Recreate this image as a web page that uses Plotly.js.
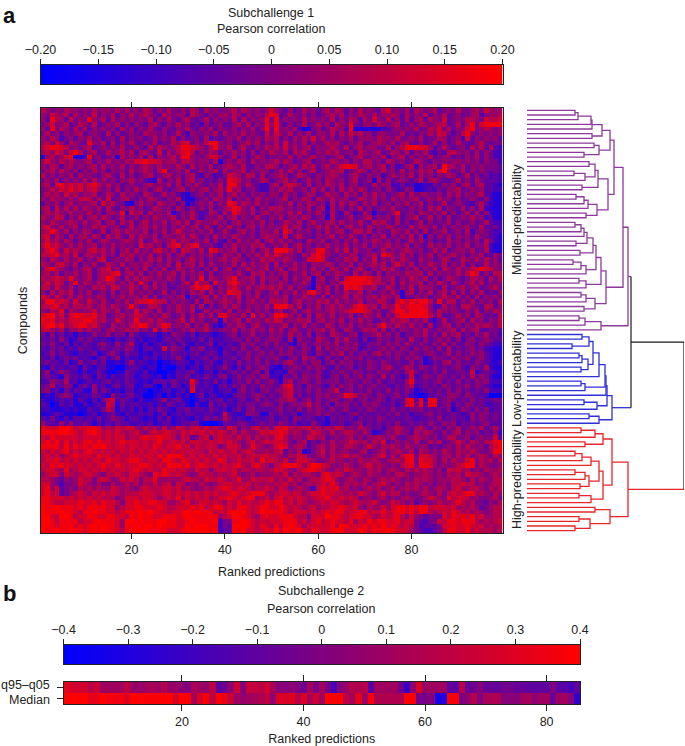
<!DOCTYPE html>
<html><head><meta charset="utf-8">
<script src="https://cdn.plot.ly/plotly-3.0.1.min.js"></script>
<style>html,body{margin:0;padding:0;background:#fff}#chart{width:685px;height:746px}</style>
</head><body><div id="chart"></div>
<script>
// Colour levels: each digit in the rows below is a level
const levelValues = [-0.2,-0.14,-0.09,-0.05,-0.005,0.04,0.085,0.13,0.175,0.2];

const middleRows = [
"6545465545 4645546464 5465354644 5465364544 5646545457 5435346453 5646535464 5436745463 6545634546 445647555",
"5475563645 4735463546 4565436545 5365435456 4653545468 7346445353 4564635465 4645565364 5463546345 345634556",
"5386537454 8546364545 4546354643 5643463545 4636454584 8354546454 5463546536 4754645363 5636547345 466547667",
"4574563465 4634546353 5435643546 4534253453 3564635485 8435346346 4536548435 5465456345 4654566346 368478888",
"5384653646 3545453645 3546435435 4643546354 4535463594 8454621145 3465529111 1112345454 6346574635 478456545",
"4645354563 4543635345 4365545346 4254454636 4546454374 7546354635 5463647564 5355444634 3546476434 685354545",
"5465245354 6453453635 4534645463 5345362434 5463545465 6353646474 6453546355 5465546445 4634465345 273545453",
"5647536543 8546363546 4354634465 7745468854 5345646354 6374546354 4656435463 4565463564 3534635346 433564344",
"6788764545 6345454634 5436465456 8876546854 6356435465 6474645635 4565463564 5544635688 8775346434 536463632",
"5657647863 5634645646 3564373646 7863546535 4645363546 5463656435 4656445365 4563465463 5463243665 453635422",
"1564578112 8453451645 4636354564 8854457753 4635346534 4546354564 5345634564 4546345635 4546345534 354635422",
"5754656545 6354645465 7787765564 6654553614 5465364545 6465345634 5465453546 6453654534 6543545455 454535442",
"5465356454 5636454635 4565464546 5364546345 6546335466 5345646563 5645788745 6456352356 2645639654 635454443",
"4564654535 4645354536 4565368445 4634545636 4556354553 4646453563 4565634565 3546453635 4656379534 635354343",
"6453546364 5435643635 3456345645 3563254234 7654663634 5653465435 4565435643 5452464546 3645354653 463534232",
"4546354546 4645453546 4532163546 3563534353 8764534653 4564534645 3654535634 5163534543 4635643346 353643332",
"5637867675 7864645345 4356454636 3546435463 8854643225 6367653635 4654635534 3645522423 1122435453 563563321",
"4565768675 6754536354 6453564345 6354563564 8563453225 4656445364 6353646465 3453542354 1123243556 345453322",
"4656475645 5634653645 4365346453 2134535463 5645354535 5364534653 4655364536 4645345636 4554453646 354563211",
"5465546467 6464734564 3546543546 2113453654 6354536454 4563546536 5464553465 4635364545 6345464535 345435211",
"3546356454 5637564411 4645365453 5124546354 8746546453 4546354654 5263646536 4634535464 4635346345 432463211",
"5637464646 5463643546 4534654536 4353536345 6875463546 5645354635 6163535463 5345464435 4536463543 635362111",
"4656546454 6453564817 5636454613 5464236536 4865463564 5546463546 4263264236 4143458345 3654546353 463635211",
"6547635463 5646534634 5354654563 5464245463 5635446435 4635546534 5163346345 6354536345 6346353634 546452311",
"5465456546 4563563646 3564546356 4636545645 3564554635 3465463564 4563645464 3656436353 4635344635 345346322",
"6754645635 4656455346 4564645354 6456364354 6453563545 4574653546 4646356453 6454654436 4654635354 554363342",
"5686463546 5346356465 5463546357 5454546346 4356453554 6386354535 3645634664 6354365464 5363546345 362454322",
"6746536456 4653646436 4654635545 6465353645 4654453565 5373564435 4563546435 3546354546 3615354635 453644321",
"5756465354 6346544565 4734654574 6545463532 5364546356 4645343654 6345354635 4654535346 4635243645 354536421",
"6867546464 5635464545 3856453678 4678445325 4645465634 5463564535 4645463546 3545645463 5436454635 463546211",
"5786475654 6756463564 6454675463 7654638754 5635463564 8886463558 8546473644 5346454565 4534646345 546346211",
"6678564735 6546453656 4546354635 6354546436 5463546475 7655436478 7543546534 5638754645 3546354564 535463354",
"5465464563 5467345465 3546463645 3564535456 4654354656 5465434778 7435465635 4735464654 3645346534 654646453",
"6546754635 4634654635 5465354637 4563636445 4636464563 6354645355 4653546354 5646357546 3546546354 635346454",
"4786543546 6356745364 5463546346 5454353635 6354654563 5635645364 5365463564 3546564354 6354636546 456787654",
"5646354645 6356678456 4635464563 6454636345 5464365635 4563546356 3546543646 5363545465 5636354546 468735366",
"6567658545 6356875364 6465454653 6354836545 6845563645 5363645615 6346378888 7664563546 5463534654 346553646",
"5757635846 5465664546 4853645343 5648563754 7865463635 4653546415 5354688887 8665463645 5635465364 356463545",
"6647546354 4656476456 5364645334 5468786354 6754645656 5646354316 4636387875 5634653546 3655436345 645634564",
"5364657354 6345363546 4545346353 5364636454 8774536435 6354645785 4635464563 5345464156 3546356363 635463435",
"7647546464 5465354645 5463634545 6143563646 4573546345 5463546453 6354563654 5646546143 5453456546 353635454",
"5886764754 7546435464 6778766354 5436365456 5463564536 6563564546 5646454563 5466437868 7886384663 546354536",
"6678564665 6456465458 5346653546 5463625346 4653545464 8886463546 3564645787 5636558678 8875236453 665436635",
"5465836545 5746546354 7465363546 5462364553 6354635453 5634635645 4564567887 6453468868 8885365454 354635465",
"7895747887 7856345645 7654546534 6354646378 5546384635 8875453636 5463546346 5463547888 8886463346 453653436",
"8785657778 8756447545 8556465445 7364534516 4563645465 7645465635 6454635464 5335465664 5463146345 636453546",
"7896856788 6754364546 7885468745 4635463213 5465356435 4563546354 3653546354 5468546546 4536245635 354656546",
"6754635564 6453564565 6453846534 5464564345 4635464536 4635643545 6464365346 5636353544 5464354563 645633443"
];

const lowRows = [
"4252423132 3534534425 3223313254 4241332123 4524463435 4536453625 4365435524 4564535244 5463536456 343546342",
"3342531243 4323213234 2312213434 3232424223 3443535345 5426154436 5436464425 2354435436 4353454535 245345433",
"4353241324 3245325346 2131232342 4213235132 3235453453 5342145345 4546354532 4453545364 3543546353 354354322",
"3243423243 3234334354 2133227354 3143523213 3435345343 4535435426 3545454523 4345453543 5354353634 345342211",
"2352432132 3412453243 3121323243 3234234314 3243534535 3545345325 4354635345 3564535435 4345434635 345453211",
"3241343423 2134235132 2132313235 3132342423 3424535344 5324536453 2534354453 4343435354 5413544354 453453211",
"3433241252 3424112135 2321201123 3213234214 3253435353 4356435355 2453545343 5435434335 3412435635 343543212",
"2142323314 2133110023 3212201002 3123143235 3142534542 1134543545 4325345243 5435643465 3543534345 325436211",
"3523543213 1242101143 2131100113 2342123132 3434345251 2215434435 3243543543 4354434357 4343435334 437134321",
"3432153324 3143132243 1232120213 3423243245 2353453552 2143535445 3245353453 5436353237 2354354343 536354211",
"2354362312 3223423243 2121333243 2384232423 1343535345 3156345435 3445345435 4353343358 3343453435 343545222",
"3462354134 2523134234 1133103143 1273232134 2435343544 3478342544 3253545353 4534324356 2343435434 453543211",
"4523142331 1524312133 1210112312 3182323123 3145342453 4567443535 3457345343 5343534353 1234343535 343435222",
"1213454123 2432153234 2200120213 1202413212 1344345434 3467343435 4544587645 4354345342 1013343554 354332000",
"2112323132 1314672432 1311235234 2101323341 3234235343 4556534535 3455345345 3454243378 3828834543 435343344",
"3201323113 1232761423 3223132432 3103115234 2243443454 3534545745 3425453435 4543342378 4838834524 354342233",
"2211121211 3224651323 1313243213 3423324323 1342453333 4534353545 4353453343 5434353434 4534343513 543535233",
"1123211101 2312342132 2323124123 2332233227 3212544114 3433413445 3534334534 3343435342 3345343343 235354343",
"3242131332 3242354313 3212132412 3213243436 4232133234 2342543432 3143434243 4354343343 2334353343 325354343",
"5332535334 3132324332 2323123312 3344100014 3344323434 3543423253 2133423452 4343435334 3435435452 434345333"
];

const highRows = [
"8777998677 8875657677 5465646457 6567675654 7635467564 7786566756 4657645465 4342456543 5643543546 345463463",
"8888998767 8976767656 7546767765 7676767676 5646545767 7875654576 5464566546 4123546543 6465435356 354534352",
"7687777767 7776767756 6787787764 7634673676 6575646565 7864554765 6345456453 5565464345 6554534664 453454473",
"7879686768 8787767877 7676786676 7577667676 7654675676 7764356243 5464557656 4657345454 6346463457 546546688",
"8888696878 7889767767 7676876778 6757667645 7764586545 7874565245 6465466545 7546565465 4553434546 465453678",
"7676786767 8767676767 6767767676 7676657676 6756765565 6735461245 7464554456 3456456546 3654546546 556544588",
"6767567877 7687767667 7677687989 7676766767 6675676776 6546576445 6465675654 4567464688 4776545646 464565465",
"6778676767 6776877678 8767768876 8767676687 5676675867 6574577654 4565545465 5654566588 4877546465 578465646",
"7687877676 7678768767 7887676988 7867876767 6786578654 6788875798 7654565456 7565454678 4887545456 788465445",
"6776585677 6767676767 8767668776 7657664677 6756656656 7765467887 6546576554 6564565465 6565453767 564546556",
"5677476567 7654667657 7654878767 6545766565 6754564555 6574656654 7867645654 6554546654 5565454656 476654565",
"6654354576 6467645767 6466855555 6766576676 5685576667 5657564566 7875456546 5456565454 6565455566 546465466",
"7754244576 5464464565 6465756747 6454654567 7666756565 6675645656 7686465656 4567545465 6545355466 766454566",
"7857345465 6565576565 4676667767 5654565678 7677656676 5764565426 8778564545 6564564565 6464565467 556654656",
"7867345676 5767676566 6777667767 6767676766 7876788865 6776765677 8776656576 5467566454 4565464676 788565465",
"8877767676 7676664577 7677656768 5767675677 8767885675 7867676567 7866767645 5456454565 4457654867 765544564",
"8876677787 7868776477 8778877556 7856776765 7686766787 8867576556 7677656765 6754576545 3454565568 656443546",
"9889888787 8888775677 8877787667 7787867886 7688767887 7976765675 6677876754 6557578878 7886777675 656534566",
"9888988768 8988776788 8989877677 8989888676 8989767988 8876777676 7878867788 6768678878 6986567687 565654566",
"9976998677 8877887768 8988778887 8988888856 7998765787 7888766477 7988767887 7567678647 5434447687 878675566",
"9986888867 7898887599 8988899887 7898888924 4889876767 7788867578 6787768576 9788778677 4324476887 888656567",
"9987889787 8989887598 9899898887 7989998824 3999876876 8689875777 7786987779 7879787676 4233347787 787675656",
"9889889887 8989887688 9998888777 8999998923 3989776787 9798897687 7789977798 7888987775 4322346887 786766656"
];

const q95q05 = [.32,.26,.26,.26,.17,.24,.1,.1,.1,.1,.2,.08,.06,.1,.12,.1,.16,.08,.08,.04,0,.14,.1,.06,.18,-.1,-.05,.05,.24,.02,.22,.22,.18,.25,.12,.02,.02,.05,0,-.06,.12,-.02,.12,-.03,-.18,.02,.08,.17,.14,.2,-.12,.1,.1,.1,.1,-.05,-.22,.05,.28,.08,.1,.1,.1,-.1,-.12,.18,-.08,-.06,.02,-.07,-.08,-.08,-.05,-.05,-.08,-.08,-.1,-.1,-.1,-.1,0,-.12,-.12,-.18,-.1];
const medianRow = [.4,.4,.4,.4,.33,.33,.4,.36,.36,.36,.3,.4,.4,.38,.38,.38,.4,.4,.28,.4,.4,.12,.28,.38,.2,.38,.33,.22,.1,.06,.1,.12,.14,.2,.04,.3,.28,.3,.18,.28,.12,.25,.1,.4,.4,.38,.2,.1,.32,.08,.38,.15,.15,.15,.15,.15,.4,.4,-.05,-.02,0,-.32,-.3,.38,.38,-.02,.06,.18,0,.12,.14,.14,.02,.03,.03,.1,.12,.04,.1,.1,-.08,.1,.1,.02,-.25];

const scaleTicksA = [-0.2,-0.15,-0.1,-0.05,0,0.05,0.1,0.15,0.2];
const scaleLabelsA = ["\u22120.20","\u22120.15","\u22120.10","\u22120.05","0","0.05","0.10","0.15","0.20"];
const scaleTicksB = [-0.4,-0.3,-0.2,-0.1,0,0.1,0.2,0.3,0.4];
const scaleLabelsB = ["\u22120.4","\u22120.3","\u22120.2","\u22120.1","0","0.1","0.2","0.3","0.4"];
const rankTicks = [20,40,60,80];
const rowLabelsB = ["q95\u2013q05","Median"];

// Dendrogram: node = [merge height, left, right]; 0 = a leaf
const middleTree = [101,
 [96,
  [87,
   [83,
    [75,[65,[64,[51,[48,0,0],0],0],0],[65,0,0]],
    [72,[67,0,0],[57,0,0]]],
   [81,
    [71,[68,[62,0,0],[58,[47,0,0],0]],[55,0,0]],
    [70,[61,[57,[49,0,0],0],0],[59,0,0]]]],
  [79,
   [74,
    [69,
     [66,[60,[57,[54,[48,0,0],0],0],[49,0,0]],[53,0,0]],
     [59,[54,[46,0,0],0],0]],
    [59,[52,0,0],0]],
   [68,[59,[54,0,0],0],[57,0,0]]]],
 [74,[58,[52,0,0],0],0]];
const lowTree = [85,
 [80,
  [79,
   [78,
    [72,[66,[62,[55,0,0],[45,0,0]],[61,[55,[52,0,0],0],[54,0,0]]],0],
    [58,[54,0,0],0]],
   0],
  [70,[57,0,0],0]],
 [72,[62,0,0],0]];
const highTree = [101,
 [85,
  [76,[68,[54,0,0],0],[58,0,0]],
  [76,
   [72,[64,[55,[48,0,0],0],0],[62,[58,[48,0,0],0],[53,0,0]]],
   [64,[52,0,0],0]]],
 [83,[68,0,0],[63,[52,0,0],[48,0,0]]]];
const rootHeight = 157, upperHeight = 104;

const toRow = s => s.replace(/ /g,'').split('').map(d => levelValues[+d]);
const matrix = [...middleRows,...lowRows,...highRows].map(toRow);
const rows = matrix.map((_,i)=>i);
const cols = matrix[0].map((_,i)=>i+1);
const colsB = q95q05.map((_,i)=>i+1);

let nextLeaf = 0;
function walk(node, sx, sy){
  if(node === 0){ return {h:0, y:nextLeaf++}; }
  const a = walk(node[1], sx, sy), b = walk(node[2], sx, sy), h = node[0];
  sx.push(a.h,h,h,b.h,null); sy.push(a.y,a.y,b.y,b.y,null);
  return {h, y:(a.y+b.y)/2};
}
function cluster(tree){ const x=[],y=[]; const r=walk(tree,x,y); return {x,y,r}; }
const mid = cluster(middleTree), low = cluster(lowTree), high = cluster(highTree);
mid.x.push(mid.r.h,upperHeight); mid.y.push(mid.r.y,mid.r.y);
low.x.push(low.r.h,upperHeight); low.y.push(low.r.y,low.r.y);
high.x.push(high.r.h,rootHeight); high.y.push(high.r.y,high.r.y);
const upperY = (mid.r.y+low.r.y)/2;
const rootX = [upperHeight,upperHeight,null,upperHeight,rootHeight,rootHeight];
const rootY = [mid.r.y,low.r.y,null,upperY,upperY,high.r.y];

const W=685,H=746;
const dx=(a,b)=>[a/W,b/W];
const dy=(top,bot)=>[1-bot/H,1-top/H];
const ink='#222';
const F={family:'"Liberation Sans", Arial, sans-serif',size:12.5,color:ink};
const scale=[[0,'#0000ff'],[1,'#ff0000']];
const frame={showline:true,linewidth:1,linecolor:ink,mirror:true,showgrid:false,zeroline:false,tickcolor:ink,tickfont:F};

const dendro=(t,c,w)=>({type:'scatter',mode:'lines',x:t.x,y:t.y,xaxis:'x5',yaxis:'y',line:{color:c,width:w,shape:'linear'},hoverinfo:'skip',showlegend:false,connectgaps:false});

const data=[
 {type:'heatmap',z:matrix,x:cols,y:rows,xaxis:'x',yaxis:'y',colorscale:scale,zmin:-0.2,zmax:0.2,showscale:false,hoverinfo:'skip'},
 {type:'heatmap',z:[scaleTicksA],x:scaleTicksA,y:[0],xaxis:'x2',yaxis:'y2',colorscale:scale,zmin:-0.2,zmax:0.2,zsmooth:'best',showscale:false,hoverinfo:'skip'},
 {type:'heatmap',z:[scaleTicksB],x:scaleTicksB,y:[0],xaxis:'x3',yaxis:'y3',colorscale:scale,zmin:-0.4,zmax:0.4,zsmooth:'best',showscale:false,hoverinfo:'skip'},
 {type:'heatmap',z:[q95q05,medianRow],x:colsB,y:[0,1],xaxis:'x4',yaxis:'y4',colorscale:scale,zmin:-0.4,zmax:0.4,showscale:false,hoverinfo:'skip'},
 dendro(mid,'#8e3a9d',1.3),dendro(low,'#3030d8',1.3),dendro(high,'#e8262a',1.3),
 dendro({x:rootX,y:rootY},'#1a1a1a',1.2)
];

const note=(text,x,y,o={})=>Object.assign({text,xref:'paper',yref:'paper',x:x/W,y:1-y/H,showarrow:false,font:F,xanchor:'center',yanchor:'middle'},o);

const layout={
 width:W,height:H,margin:{l:0,r:0,t:0,b:0},paper_bgcolor:'#fff',plot_bgcolor:'#fff',font:F,showlegend:false,
 xaxis:Object.assign({},frame,{domain:dx(40.5,502.5),range:[0.5,99.5],tickvals:rankTicks,ticks:'outside',ticklen:5,mirror:'ticks',anchor:'y',
   title:{text:'Ranked predictions',font:F,standoff:11}}),
 yaxis:Object.assign({},frame,{domain:dy(108,533),range:[90.5,-0.5],showticklabels:false,ticks:'',anchor:'x',
   title:{text:'Compounds',font:F,standoff:9}}),
 xaxis2:Object.assign({},frame,{domain:dx(40.5,502.5),range:[-0.2,0.2],side:'top',tickvals:scaleTicksA,ticktext:scaleLabelsA,ticks:'outside',ticklen:5,anchor:'y2'}),
 yaxis2:Object.assign({},frame,{domain:dy(65,84),range:[-0.5,0.5],showticklabels:false,ticks:'',anchor:'x2'}),
 xaxis3:Object.assign({},frame,{domain:dx(63.5,580),range:[-0.4,0.4],side:'top',tickvals:scaleTicksB,ticktext:scaleLabelsB,ticks:'outside',ticklen:5,anchor:'y3'}),
 yaxis3:Object.assign({},frame,{domain:dy(645,664),range:[-0.5,0.5],showticklabels:false,ticks:'',anchor:'x3'}),
 xaxis4:Object.assign({},frame,{domain:dx(63.5,580),range:[0.5,85.5],tickvals:rankTicks,ticks:'outside',ticklen:6,mirror:'ticks',anchor:'y4',
   title:{text:'Ranked predictions',font:F,standoff:6}}),
 yaxis4:Object.assign({},frame,{domain:dy(682,704),range:[1.5,-0.5],tickvals:[0,1],showticklabels:false,ticks:'outside',ticklen:6,anchor:'x4'}),
 xaxis5:{domain:dx(527,684),range:[0,rootHeight],visible:false,anchor:'y'},
 annotations:[
  note('Subchallenge 1',271,13),note('Pearson correlation',271,29),
  note('Subchallenge 2',321,591),note('Pearson correlation',321,609),
  note(rowLabelsB[0],51.5,685,{xanchor:'right'}),note(rowLabelsB[1],51.5,700,{xanchor:'right'}),
  note('<b>a</b>',1,15,{xanchor:'left',font:{family:F.family,size:22,color:'#111'}}),
  note('<b>b</b>',1,593,{xanchor:'left',font:{family:F.family,size:22,color:'#111'}}),
  note('Middle-predictability',517,220,{textangle:-90}),
  note('Low-predictability',517,379,{textangle:-90}),
  note('High-predictability',517,479,{textangle:-90})
 ]
};
Plotly.newPlot('chart',data,layout,{displayModeBar:false,staticPlot:true});
</script></body></html>
